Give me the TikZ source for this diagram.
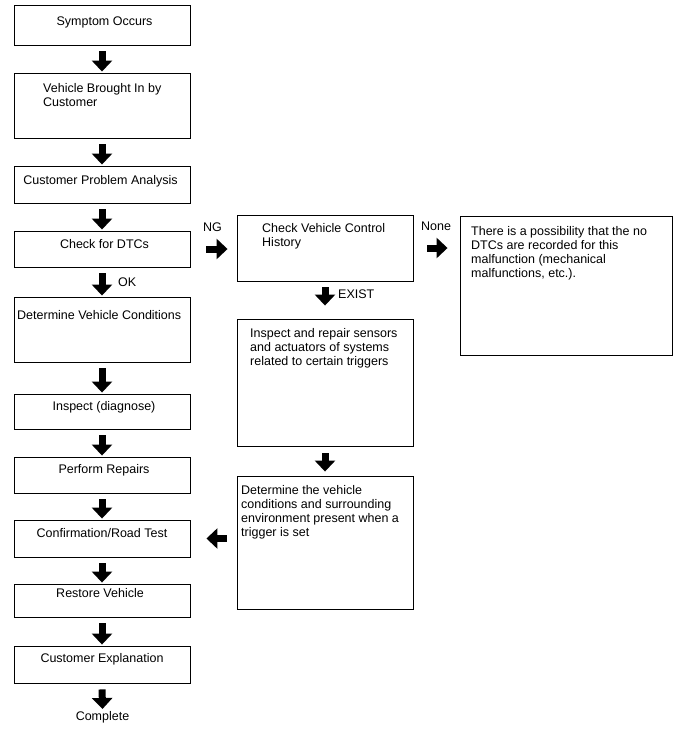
\documentclass[tikz,border=0pt]{standalone}
\usepackage{fontspec}
\setmainfont{Liberation Sans}
\usetikzlibrary{arrows.meta}
\begin{document}
\begin{tikzpicture}[x=1pt,y=-1pt,
  box/.style={draw=black, line width=0.9pt, rectangle, inner sep=0pt},
  txt/.style={inner sep=0pt, align=left, font=\fontsize{12.5}{14}\selectfont, text=black},
  fat/.style={draw=black, line width=7pt, -{Triangle[width=20pt,length=11pt]}, shorten <=6pt, shorten >=1pt}]
\useasboundingbox (0,0) rectangle (688,755);
% left column
\node[box, minimum width=176pt, minimum height=40pt] (b1) at (102,25) {};
\node[box, minimum width=176pt, minimum height=65pt] (b2) at (102,105.5) {};
\node[box, minimum width=176pt, minimum height=37pt] (b3) at (102,184.5) {};
\node[box, minimum width=176pt, minimum height=36pt] (b4) at (102,249) {};
\node[box, minimum width=176pt, minimum height=65pt] (b5) at (102,329.5) {};
\node[box, minimum width=176pt, minimum height=35pt] (b6) at (102,411.5) {};
\node[box, minimum width=176pt, minimum height=36pt] (b7) at (102,475) {};
\node[box, minimum width=176pt, minimum height=37pt] (b8) at (102,538.5) {};
\node[box, minimum width=176pt, minimum height=33pt] (b9) at (102,600.5) {};
\node[box, minimum width=176pt, minimum height=37pt] (b10) at (102,664.5) {};
\node[txt, anchor=north] (t1) at (104.5,17) {Symptom Occurs};
\node[txt, anchor=north west] (t2) at (43,83) {Vehicle Brought In by\\Customer};
\node[txt, anchor=north] (t3) at (100.5,175) {Customer Problem Analysis};
\node[txt, anchor=north] (t4) at (104.5,239) {Check for DTCs};
\node[txt, anchor=north west] (t5) at (17,310) {Determine Vehicle Conditions};
\node[txt, anchor=north] (t6) at (104,401) {Inspect (diagnose)};
\node[txt, anchor=north] (t7) at (104,464) {Perform Repairs};
\node[txt, anchor=north] (t8) at (102,528) {Confirmation/Road Test};
\node[txt, anchor=north] (t9) at (100,588) {Restore Vehicle};
\node[txt, anchor=north] (t10) at (102,653) {Customer Explanation};
\node[txt, anchor=north] (done) at (102.5,711) {Complete};
% middle column
\node[box, minimum width=176pt, minimum height=66pt] (cv) at (325,248) {};
\node[box, minimum width=176pt, minimum height=127pt] (ir) at (325,382.5) {};
\node[box, minimum width=176pt, minimum height=133pt] (dv) at (325,542.5) {};
\node[txt, anchor=north west] (tcv) at (262,223) {Check Vehicle Control\\History};
\node[txt, anchor=north west] (tir) at (250,328) {Inspect and repair sensors\\and actuators of systems\\related to certain triggers};
\node[txt, anchor=north west] (tdv) at (241,485) {Determine the vehicle\\conditions and surrounding\\environment present when a\\trigger is set};
% right box
\node[box, minimum width=212pt, minimum height=139pt] (fr) at (566,285.5) {};
\node[txt, anchor=north west] (tfr) at (471,226) {There is a possibility that the no\\DTCs are recorded for this\\malfunction (mechanical\\malfunctions, etc.).};
% labels
\node[txt, anchor=north west] (lng) at (203,223) {NG};
\node[txt, anchor=north west] (lnone) at (421,222) {None};
\node[txt, anchor=north west] (lexist) at (338,290) {EXIST};
\node[txt, anchor=north west] (lok) at (118,278) {OK};
% arrows left column
\draw[fat] (b1.south) -- (b2.north);
\draw[fat] (b2.south) -- (b3.north);
\draw[fat] (b3.south) -- (b4.north);
\draw[fat] (b4.south) -- (b5.north);
\draw[fat] (b5.south) -- (b6.north);
\draw[fat] (b6.south) -- (b7.north);
\draw[fat] (b7.south) -- (b8.north);
\draw[fat] (b8.south) -- (b9.north);
\draw[fat] (b9.south) -- (b10.north);
\draw[fat, shorten >=2pt] (b10.south) -- (done.north);
% other arrows
\draw[fat, shorten <=16pt, shorten >=9pt] (b4.east) -- (cv.west |- b4.east);
\draw[fat, shorten <=14pt, shorten >=12pt] (cv.east) -- (fr.west |- cv.east);
\draw[fat, shorten <=6pt, shorten >=13pt] (cv.south) -- (ir.north);
\draw[fat, shorten <=7pt, shorten >=4pt] (ir.south) -- (dv.north);
\draw[fat, shorten <=10pt, shorten >=16pt] (dv.west |- b8.east) -- (b8.east);
\end{tikzpicture}
\end{document}
